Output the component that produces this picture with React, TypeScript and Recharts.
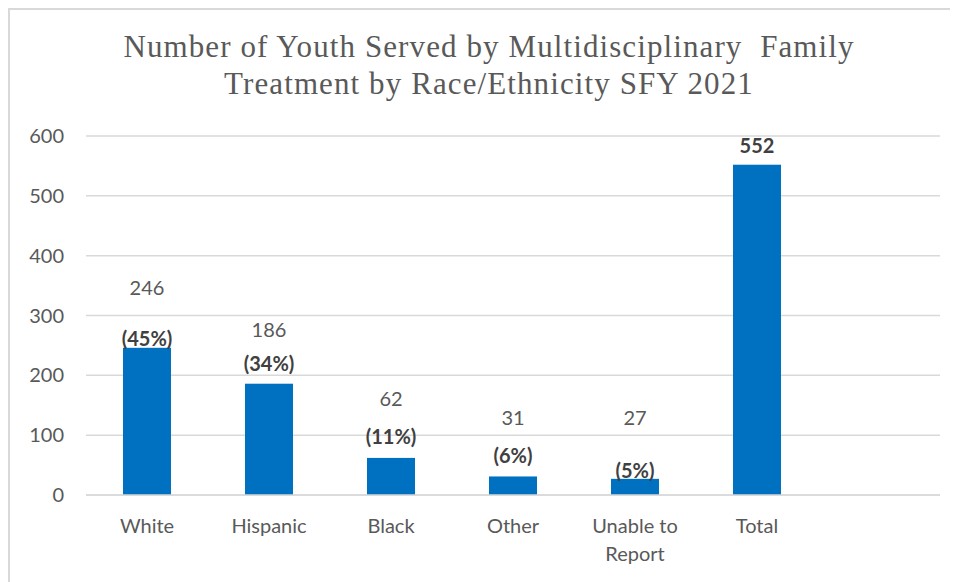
import React from "react";
import { BarChart, Bar, XAxis, YAxis, CartesianGrid } from "recharts";

const categories = ["White", "Hispanic", "Black", "Other", "Unable to Report", "Total", ""];
const counts: (number | null)[] = [246, 186, 62, 31, 27, 552, null];
const countLabels = ["246", "186", "62", "31", "27", "552", ""];
const percentLabels = ["(45%)", "(34%)", "(11%)", "(6%)", "(5%)", "", ""];
const yTicks = [0, 100, 200, 300, 400, 500, 600];
const titleLines = [
  "Number of Youth Served by Multidisciplinary  Family",
  "Treatment by Race/Ethnicity SFY 2021",
];

// label placement (layout only): vertical centre offset from the bar top
const countDy = [-61, -55, -60, -59, -62, -20, 0];
const pctDy = [-10, -21, -22, -21, -9, 0, 0];

const data = categories.map((c, i) => ({
  category: c,
  count: counts[i],
  countLabel: countLabels[i],
  pctLabel: percentLabels[i],
}));

const FONT = "Lato, 'Open Sans', sans-serif";

const BarShape = (props: any) => {
  const { x, y, width, height, index, payload } = props;
  if (payload == null || payload.count == null) return null;
  const cx = x + width / 2;
  const isTotal = !payload.pctLabel;
  return (
    <g>
      <rect x={x} y={y} width={width} height={height} fill="#0070C0" />
      {payload.countLabel ? (
        <text
          x={cx}
          y={y + countDy[index]}
          textAnchor="middle"
          dominantBaseline="central"
          fontFamily={FONT}
          fontSize={20}
          fontWeight={isTotal ? 700 : 400}
          fill={isTotal ? "#404040" : "#595959"}
        >
          {payload.countLabel}
        </text>
      ) : null}
      {payload.pctLabel ? (
        <text
          x={cx}
          y={y + pctDy[index]}
          textAnchor="middle"
          dominantBaseline="central"
          fontFamily={FONT}
          fontSize={20}
          fontWeight={700}
          fill="#404040"
        >
          {payload.pctLabel}
        </text>
      ) : null}
    </g>
  );
};

const XTick = (props: any) => {
  const { x, y, payload } = props;
  const label: string = payload.value || "";
  let lines = [label];
  if (label.length > 10 && label.lastIndexOf(" ") > 0) {
    const k = label.lastIndexOf(" ");
    lines = [label.slice(0, k), label.slice(k + 1)];
  }
  return (
    <text
      x={x}
      y={y}
      textAnchor="middle"
      fontFamily={FONT}
      fontSize={20}
      fill="#595959"
    >
      {lines.map((l, i) => (
        <tspan key={i} x={x} dy={i === 0 ? "0.71em" : 28}>
          {l}
        </tspan>
      ))}
    </text>
  );
};

export default function App() {
  return (
    <div
      style={{
        position: "relative",
        width: 950,
        height: 574,
        boxSizing: "border-box",
        borderTop: "2px solid #d9d9d9",
        borderLeft: "2px solid #d9d9d9",
        background: "#fff",
      }}
    >
      <div
        style={{
          position: "absolute",
          left: 0,
          width: 958,
          top: 18,
          textAlign: "center",
          fontFamily: "'Liberation Serif', 'DejaVu Serif', serif",
          fontSize: 31,
          letterSpacing: 1.1,
          lineHeight: "37px",
          color: "#595959",
          whiteSpace: "pre",
        }}
      >
        {titleLines.map((t, i) => (
          <div key={i}>{t}</div>
        ))}
      </div>
      <BarChart
        width={948}
        height={572}
        data={data}
        margin={{ top: 126, right: 18, bottom: 27, left: 16 }}
        barSize={48}
      >
        <CartesianGrid vertical={false} stroke="#d9d9d9" strokeWidth={1.5} />
        <XAxis
          dataKey="category"
          axisLine={{ stroke: "#d9d9d9", strokeWidth: 1.5 }}
          tickLine={false}
          tickSize={0}
          tickMargin={24}
          height={60}
          interval={0}
          tick={<XTick />}
        />
        <YAxis
          domain={[0, 600]}
          ticks={yTicks}
          axisLine={false}
          tickLine={false}
          tickSize={0}
          tickMargin={22}
          width={60}
          tick={{ fontFamily: FONT, fontSize: 20, fill: "#595959" }}
          interval={0}
        />
        <Bar dataKey="count" isAnimationActive={false} shape={<BarShape />} />
      </BarChart>
    </div>
  );
}
